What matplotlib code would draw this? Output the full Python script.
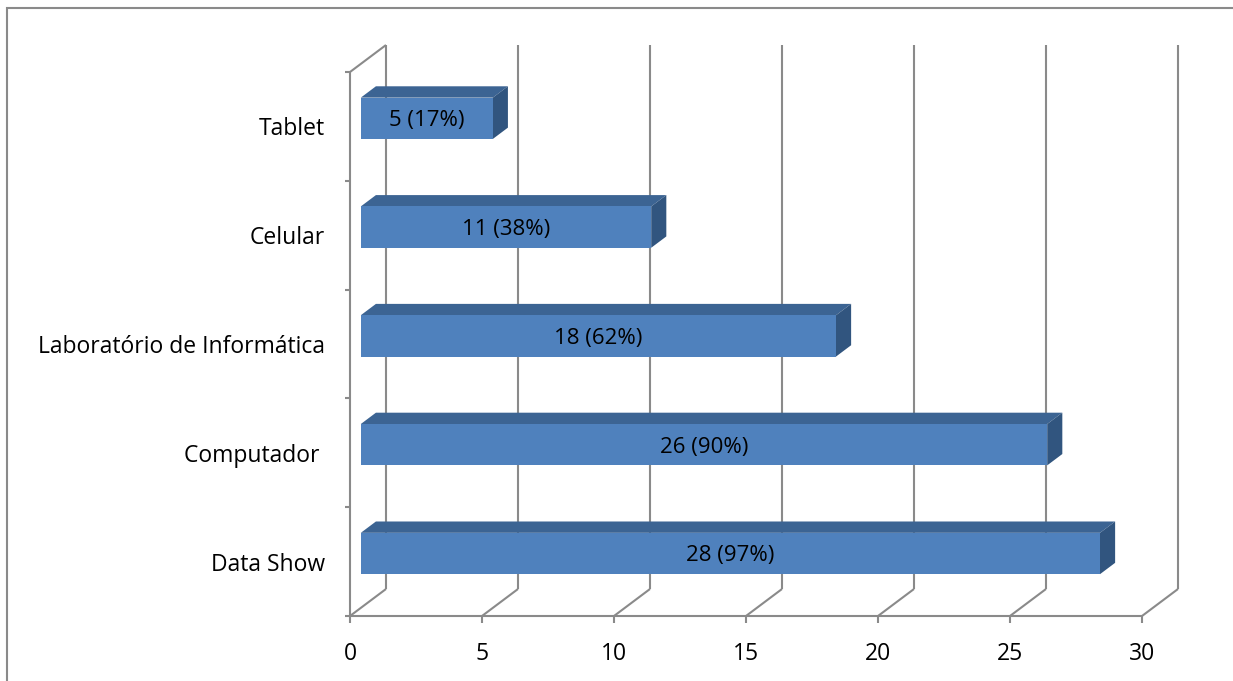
import matplotlib.pyplot as plt
from matplotlib.patches import Polygon, Rectangle

# chart data
categories = ['Data Show', 'Computador ', 'Laboratório de Informática', 'Celular', 'Tablet']
counts = [28, 26, 18, 11, 5]
percents = [97, 90, 62, 38, 17]
xticks = [0, 5, 10, 15, 20, 25, 30]

W, H = 1233, 681
plt.rcParams['font.family'] = ['Open Sans', 'DejaVu Sans']

fig = plt.figure(figsize=(W / 100, H / 100), dpi=100)
ax = fig.add_axes([0, 0, 1, 1])
ax.axis('off')

# pixel scale of value axis and category axis
px_val = 26.4
px_cat = 108.8
x0_px = 350     # value 0 on the front plane
y0_px = 616     # floor on the front plane (from top)
ax.set_xlim(-x0_px / px_val, (W - x0_px) / px_val)
ax.set_ylim(-(H - y0_px) / px_cat, y0_px / px_cat)

# oblique depth offset (full depth)
DX = 36 / px_val
DY = 27 / px_cat


def proj(v, c, d):
    return v + d * DX, c + d * DY


grid = dict(color='#8a8a8a', lw=1.5, solid_capstyle='butt', zorder=1)
ncat = len(categories)
vmax = xticks[-1]

# back wall gridlines and floor diagonals
for v in xticks:
    (xa, ya), (xb, yb) = proj(v, 0, 1), proj(v, ncat, 1)
    ax.plot([xa, xb], [ya, yb], **grid)
    (xa, ya), (xb, yb) = proj(v, 0, 0), proj(v, 0, 1)
    ax.plot([xa, xb], [ya, yb], **grid)
    ax.plot([v, v], [0, -7 / px_cat], **grid)
    ax.text(v, -35 / px_cat, str(v), ha='center', va='center_baseline', fontsize=16.5)

# front floor edge, left wall edges
ax.plot([0, vmax], [0, 0], **grid)
ax.plot([0, 0], [0, ncat], **grid)
(xa, ya), (xb, yb) = proj(0, ncat, 0), proj(0, ncat, 1)
ax.plot([xa, xb], [ya, yb], **grid)
for c in range(ncat + 1):
    ax.plot([0, -5 / px_val], [c, c], **grid)

# 3D bars
front_c, top_c, side_c = '#4f81bd', '#3c6493', '#31557f'
d0, d1 = 0.3, 0.72
half = 0.19
for i, (name, n, p) in enumerate(zip(categories, counts, percents)):
    c0, c1 = i + 0.5 - half, i + 0.5 + half
    front = [proj(0, c0, d0), proj(n, c0, d0), proj(n, c1, d0), proj(0, c1, d0)]
    top = [proj(0, c1, d0), proj(n, c1, d0), proj(n, c1, d1), proj(0, c1, d1)]
    side = [proj(n, c0, d0), proj(n, c0, d1), proj(n, c1, d1), proj(n, c1, d0)]
    ax.add_patch(Polygon(top, closed=True, fc=top_c, ec='none', zorder=3))
    ax.add_patch(Polygon(side, closed=True, fc=side_c, ec='none', zorder=3))
    ax.add_patch(Polygon(front, closed=True, fc=front_c, ec='none', zorder=4))
    tx, ty = proj(n / 2, i + 0.5, d0)
    ax.text(tx, ty, f'{n} ({p}%)', ha='center', va='center_baseline',
            fontsize=16, zorder=5)
    ax.text(-25 / px_val, i + 0.5, name, ha='right', va='center_baseline', fontsize=16.5)

# outer frame
fig.patches.append(Rectangle((6.5 / W, -0.1), 1.2, (H - 7.5) / H + 0.1,
                             transform=fig.transFigure, fill=False,
                             ec='#8a8a8a', lw=1.5))

fig.savefig('out.png', dpi=100)
